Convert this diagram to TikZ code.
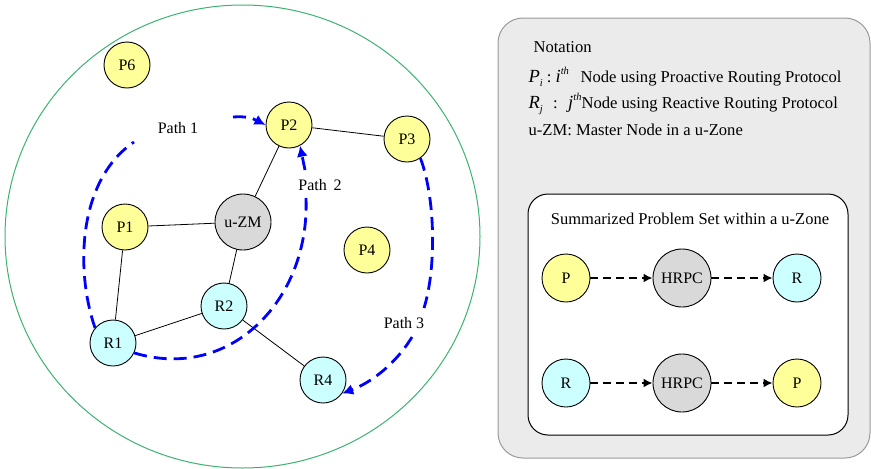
\documentclass[tikz,border=0pt]{standalone}
\usepackage{fontspec}
\setmainfont{Liberation Serif}
\usetikzlibrary{arrows.meta}

\definecolor{pfill}{HTML}{FFFF99}
\definecolor{rfill}{HTML}{CCFFFF}
\definecolor{zfill}{HTML}{D9D9D9}
\definecolor{zone}{HTML}{3CB371}
\definecolor{panel}{HTML}{EBEBEB}
\definecolor{panelline}{HTML}{9A9A9A}
\definecolor{pathblue}{HTML}{0000FF}

% symbol with sub/superscript for the notation lines
\newcommand{\symbolsub}[2]{{\fontsize{18.5}{20}\selectfont\textit{#1}}\raisebox{-0.55ex}{\fontsize{10.5}{12}\selectfont\textit{#2}}}
\newcommand{\ordsup}[1]{{\fontsize{18.5}{20}\selectfont\textit{#1}}\raisebox{1.0ex}{\fontsize{10.5}{12}\selectfont\textit{th}}}
\newcommand{\notehead}[1]{\makebox[52pt][l]{#1}}
\newcommand{\spreadhead}[1]{\makebox[53pt][s]{#1}}

\tikzset{
  every node/.style={font=\fontsize{16}{19}\selectfont},
  notetext/.style={anchor=west, font=\fontsize{16.6}{19}\selectfont},
  basenode/.style={circle, draw=black, line width=0.9pt, inner sep=0pt},
  pnode/.style={basenode, fill=pfill, minimum size=46pt},
  rnode/.style={basenode, fill=rfill, minimum size=46pt},
  znode/.style={basenode, fill=zfill, minimum size=56pt},
  link/.style={draw=black, line width=0.8pt},
  route/.style={draw=pathblue, line width=2.8pt, dash pattern=on 13pt off 7pt},
  routetip/.style={route, -{Latex[length=11pt,width=11pt]}},
  flow/.style={draw=black, line width=2.2pt, dash pattern=on 8pt off 5pt,
    -{Latex[length=9pt,width=9pt]}},
  pathlabel/.style={inner sep=1pt},
}

\begin{document}
\begin{tikzpicture}[x=1pt,y=-1pt]
\useasboundingbox (0,0) rectangle (871,469);

% u-Zone boundary
\draw[zone, line width=1pt] (242.5,236.5) ellipse [x radius=237.5, y radius=231.5];

% zone members
\node[pnode] (P6) at (127,65) {P6};
\node[pnode] (P2) at (289,125) {P2};
\node[pnode] (P3) at (407,139) {P3};
\node[pnode] (P1) at (125,227) {P1};
\node[znode] (ZM) at (243,222) {u-ZM};
\node[pnode] (P4) at (367,250) {P4};
\node[rnode] (R2) at (224,306) {R2};
\node[rnode] (R1) at (113,343) {R1};
\node[rnode] (R4) at (323,380) {R4};

% radio links
\draw[link] (P2) -- (P3);
\draw[link] (P2) -- (ZM);
\draw[link] (P1) -- (ZM);
\draw[link] (P1) -- (R1);
\draw[link] (ZM) -- (R2);
\draw[link] (R1) -- (R2);
\draw[link] (R2) -- (R4);

% path labels
\node[pathlabel] (L1) at (178,128) {Path 1};
\node[pathlabel] (L2) at (320,185) {Path\, 2};
\node[pathlabel] (L3) at (404,323) {Path 3};

% break points of the routes around their labels
\coordinate (p1a) at (134,142);
\coordinate (p1b) at (233,117);
\coordinate (p2a) at (306,198);
\coordinate (p2b) at (305,170);
\coordinate (p3a) at (424,308);
\coordinate (p3b) at (412,337);

% Path 1: R1 -> P2
\draw[route] (R1.140) .. controls (75,270) and (78,180) .. (p1a);
\draw[routetip] (p1b) .. controls (245,116) and (252,118) .. (P2.west);

% Path 2: R1 -> P2
\draw[route] (R1.-25) .. controls (230,382) and (310,300) .. (p2a);
\draw[routetip] (p2b) -- (P2.-62);

% Path 3: P3 -> R4
\draw[route] (P3.-55) .. controls (436,200) and (436,270) .. (p3a);
\draw[routetip] (p3b) .. controls (395,365) and (370,383) .. (R4.-35);

% notation panel
\draw[panelline, fill=panel, line width=1pt, rounded corners=25pt]
  (498,18) rectangle (870,458);
\node[notetext] (N0) at (530,47) {Notation};
\node[notetext] (N1) at (525,77)
  {\notehead{\symbolsub{P}{i}\ :\ \ordsup{i}}Node using Proactive Routing Protocol};
\node[notetext] (N2) at (525,104)
  {\spreadhead{\symbolsub{R}{j}\hfil:\hfil\ordsup{j}}Node using Reactive Routing Protocol};
\node[notetext] (N3) at (525,130) {u-ZM: Master Node in a u-Zone};

% problem set box
\draw[black, fill=white, line width=1pt, rounded corners=20pt]
  (528,194) rectangle (848,435);
\node[font=\fontsize{16.5}{19}\selectfont] (ST) at (690,219) {Summarized Problem Set within a u-Zone};

\node[pnode, minimum size=48pt] (SP1) at (566,278) {P};
\node[znode, minimum size=58pt] (SH1) at (682,278) {HRPC};
\node[rnode, minimum size=48pt] (SR1) at (797,278) {R};
\draw[flow] (SP1) -- (SH1);
\draw[flow] (SH1) -- (SR1);

\node[rnode, minimum size=48pt] (SR2) at (566,383) {R};
\node[znode, minimum size=58pt] (SH2) at (682,383) {HRPC};
\node[pnode, minimum size=48pt] (SP2) at (797,383) {P};
\draw[flow] (SR2) -- (SH2);
\draw[flow] (SH2) -- (SP2);
\end{tikzpicture}
\end{document}
